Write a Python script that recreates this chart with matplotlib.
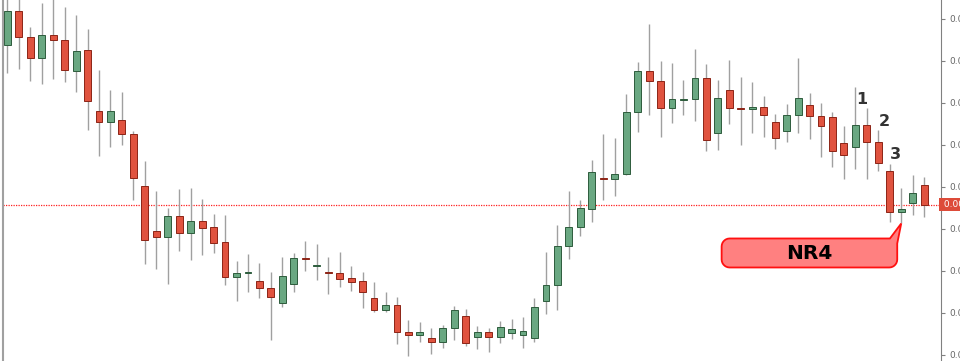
import matplotlib
matplotlib.use("Agg")
import matplotlib.pyplot as plt
import numpy as np
from matplotlib.path import Path
from matplotlib.patches import PathPatch
from matplotlib.transforms import IdentityTransform, blended_transform_factory

OUT_FILE = "out.png"

# prices in units of 1e-5
opens = [893.9, 901.9, 895.7, 890.8, 896.1, 894.9, 887.5, 892.5, 878.1, 875.4,
         875.9, 872.7, 860.2, 849.5, 848.0, 853.0, 849.0, 851.9, 850.4, 846.8,
         838.6, 839.4, 837.7, 835.9, 832.4, 837.0, 843.1, 841.1, 839.6, 839.6,
         838.2, 837.6, 833.5, 830.6, 831.8, 825.4, 824.7, 824.1, 823.1, 826.3,
         829.2, 824.2, 825.5, 824.2, 825.1, 824.8, 824.1, 832.9, 836.6, 845.9,
         850.5, 854.8, 861.9, 861.8, 863.1, 877.9, 887.6, 885.3, 878.9, 880.8,
         880.9, 885.9, 872.8, 883.2, 878.9, 878.5, 879.0, 875.5, 873.4, 877.1,
         879.4, 876.8, 876.6, 870.5, 869.4, 874.7, 870.8, 863.7, 854.1, 856.2,
         860.4]
highs = [905.7, 905.2, 898.0, 903.7, 905.0, 902.9, 901.0, 897.6, 887.8, 883.2,
         882.5, 873.3, 866.1, 859.1, 854.9, 859.4, 859.7, 857.1, 853.5, 853.2,
         842.4, 844.0, 842.0, 839.8, 843.2, 844.2, 847.2, 846.4, 843.2, 844.4,
         841.2, 839.8, 837.4, 835.1, 833.7, 828.3, 827.8, 826.4, 827.1, 831.6,
         830.9, 826.9, 826.3, 828.1, 828.5, 829.0, 833.5, 844.5, 850.9, 859.1,
         856.8, 866.4, 872.7, 871.6, 882.1, 889.7, 898.8, 889.9, 889.5, 885.5,
         892.8, 889.3, 885.5, 890.2, 886.2, 885.0, 881.6, 877.4, 879.7, 890.6,
         882.3, 880.0, 877.8, 874.5, 883.7, 878.9, 873.5, 865.5, 859.8, 862.8,
         862.4]
lows = [887.2, 888.1, 885.3, 884.5, 885.6, 885.0, 882.6, 873.5, 867.4, 869.6,
        870.0, 856.9, 841.6, 840.5, 836.9, 844.8, 842.6, 843.9, 844.2, 836.6,
        832.9, 835.0, 833.5, 823.6, 831.5, 835.0, 840.0, 837.8, 834.6, 836.1,
        835.3, 831.2, 830.3, 830.2, 822.5, 819.7, 823.0, 820.3, 821.6, 823.5,
        822.1, 821.4, 820.8, 822.9, 823.8, 821.7, 823.1, 829.8, 830.8, 842.9,
        848.4, 851.7, 857.0, 857.8, 862.8, 873.0, 877.1, 871.9, 875.3, 877.1,
        875.6, 868.5, 868.9, 875.0, 869.9, 872.9, 872.0, 869.0, 870.7, 872.8,
        871.3, 867.2, 864.7, 862.0, 864.3, 861.8, 863.9, 851.7, 851.3, 853.3,
        852.9]
closes = [901.9, 895.6, 890.8, 896.1, 894.9, 887.8, 892.3, 880.4, 875.4, 878.1,
          872.6, 862.2, 847.4, 848.0, 853.0, 849.0, 852.0, 850.3, 846.7, 838.5,
          839.4, 839.5, 836.0, 833.9, 838.8, 843.0, 842.9, 841.2, 839.5, 838.1,
          837.4, 835.0, 830.7, 831.8, 825.4, 824.7, 825.4, 823.1, 826.4, 830.7,
          822.9, 825.4, 824.2, 826.6, 826.1, 825.6, 831.5, 836.7, 846.0, 850.5,
          854.9, 863.5, 861.8, 863.2, 877.9, 887.6, 885.3, 878.9, 880.9, 880.9,
          885.9, 871.1, 881.3, 878.9, 878.6, 879.0, 877.1, 871.7, 877.2, 881.3,
          876.8, 874.5, 868.5, 867.5, 874.7, 870.8, 865.6, 854.1, 854.7, 858.6,
          855.8]

price_ticks = [820, 830, 840, 850, 860, 870, 880, 890, 900]
count_labels = ["1", "2", "3"]
count_index = [75, 76, 77]
nr4_index = 78
nr4_text = "NR4"

UP_FILL = "#6aa882"
UP_EDGE = "#2d5c3c"
DOWN_FILL = "#e0533f"
DOWN_EDGE = "#8c2416"
WICK = "#a0a0a0"


def draw_candles(ax):
    o = np.array(opens)
    h = np.array(highs)
    l = np.array(lows)
    c = np.array(closes)
    x = np.arange(len(o))
    up = c >= o
    ax.vlines(x, l, h, color=WICK, linewidth=1.0, zorder=1)
    bottom = np.minimum(o, c)
    height = np.maximum(np.abs(c - o), 0.25)
    fill = np.where(up, UP_FILL, DOWN_FILL)
    edge = np.where(up, UP_EDGE, DOWN_EDGE)
    ax.bar(x, height, bottom=bottom, width=0.6, color=fill,
           edgecolor=edge, linewidth=0.7, zorder=2)


def draw_callout(ax, fig):
    fig.canvas.draw()
    tx, ty = ax.transData.transform((nr4_index, lows[nr4_index]))
    L, R = tx - 179.6, tx - 4
    T, B = ty - 15, ty - 44
    r = 8
    pts = [(L + r, T), (tx - 11.3, T), (tx, ty), (R, T - 5), (R, B + r)]
    for a in np.linspace(0, -np.pi / 2, 8):
        pts.append((R - r + r * np.cos(a), B + r + r * np.sin(a)))
    pts.append((L + r, B))
    for a in np.linspace(-np.pi / 2, -np.pi, 8):
        pts.append((L + r + r * np.cos(a), B + r + r * np.sin(a)))
    pts.append((L, T - r))
    for a in np.linspace(np.pi, np.pi / 2, 8):
        pts.append((L + r + r * np.cos(a), T - r + r * np.sin(a)))
    pts.append(pts[0])
    path = Path(pts, closed=True)
    patch = PathPatch(path, facecolor="#ff8080", edgecolor="#ff1010",
                      linewidth=1.3, transform=IdentityTransform(),
                      clip_on=False, zorder=5)
    ax.add_artist(patch)
    ax.text((L + R) / 2, (T + B) / 2 - 1, nr4_text, transform=IdentityTransform(),
            ha="center", va="center", fontsize=14.5, fontweight="bold",
            color="black", zorder=6)


def draw_counts(ax):
    offsets = [(-5, 8.5), (6, 9), (6, 9)]
    for lab, i, off in zip(count_labels, count_index, offsets):
        ax.annotate(lab, (i, highs[i]), xytext=off, textcoords="offset pixels",
                    ha="center", va="center", fontsize=11.5, fontweight="bold",
                    color="#333333", zorder=4)


def main():
    fig = plt.figure(figsize=(9.6, 3.61), dpi=100)
    ax = fig.add_axes([3 / 960, 0, 938 / 960, 1])
    draw_candles(ax)
    ax.set_xlim(-0.375, 81.47)
    ax.set_ylim(818.55, 904.52)

    last = closes[-1]
    ax.axhline(last, color="#ff2020", linewidth=0.9, linestyle=(0, (1, 1)), zorder=0)

    for s in ["top", "bottom"]:
        ax.spines[s].set_visible(False)
    ax.spines["left"].set_color("#a0a0a0")
    ax.spines["left"].set_linewidth(1.5)
    ax.spines["right"].set_color("#808080")
    ax.spines["right"].set_linewidth(0.8)
    ax.set_xticks([])
    ax.yaxis.tick_right()
    ax.set_yticks(price_ticks)
    ax.set_yticklabels(["%.5f" % (v / 1e5) for v in price_ticks])
    ax.tick_params(axis="y", direction="out", length=3, width=0.8, color="#808080",
                   labelsize=6.5, labelcolor="#666666", pad=3)

    trans = blended_transform_factory(ax.transAxes, ax.transData)
    ax.text(1.0, last, " %.5f  " % (last / 1e5), transform=trans, ha="left",
            va="center", fontsize=6.5, color="white", clip_on=False,
            bbox=dict(boxstyle="square,pad=0.25", fc="#dd4b39", ec="none"))

    draw_counts(ax)
    draw_callout(ax, fig)
    fig.savefig(OUT_FILE, dpi=100)


if __name__ == "__main__":
    main()
